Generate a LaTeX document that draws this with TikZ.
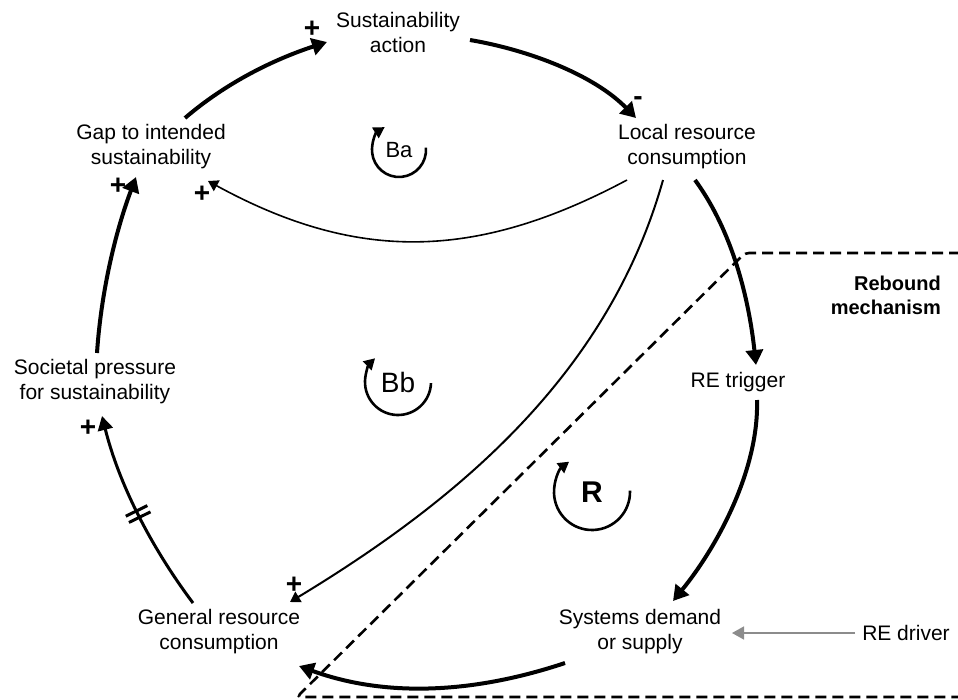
\documentclass[tikz,border=0pt]{standalone}
\usepackage{fontspec}
\setmainfont{Liberation Sans}
\usetikzlibrary{arrows.meta,calc,decorations.markings}
\begin{document}
\begin{tikzpicture}[x=1pt,y=-1pt,
  lbl/.style={font=\fontsize{21}{25}\selectfont, align=center, inner sep=0pt},
  sgn/.style={font=\bfseries\fontsize{28}{28}\selectfont, inner sep=0pt},
  thicklink/.style={line width=4pt, -{Triangle[length=15pt,width=17pt]}},
  midlink/.style={line width=3pt, -{Triangle[length=14pt,width=15pt]}},
  thinlink/.style={line width=1.6pt, -{Triangle[length=10pt,width=12pt]}},
  driverlink/.style={line width=1.5pt, draw=black!45, -{Triangle[length=12pt,width=13pt]}},
  loopicon/.style={line width=2.6pt, -{Triangle[length=11pt,width=12pt]}},
  boundary/.style={line width=2.6pt, dash pattern=on 11pt off 6pt},
  delay/.style={postaction={decorate}, decoration={markings,
    mark=at position 0.5 with {\draw[line width=3pt,-] (-3.5,-12) -- (-3.5,12) (3.5,-12) -- (3.5,12);}}}
]
\useasboundingbox (0,0) rectangle (958,699);

% variables
\node[lbl] (sa)    at (398,32)  {Sustainability\\action};
\node[lbl] (gap)   at (151,147) {Gap to intended\\sustainability};
\node[lbl] (local) at (687,147) {Local resource\\consumption};
\node[lbl] (soc)   at (95,382)  {Societal pressure\\for sustainability};
\node[lbl] (ret)   at (738,382) {RE trigger};
\node[lbl] (gen)   at (219,632) {General resource\\consumption};
\node[lbl] (sys)   at (640,632) {Systems demand\\or supply};
\node[lbl] (drv)   at (906,633) {RE driver};
\node[lbl, anchor=east, align=right, font=\bfseries\fontsize{20}{24}\selectfont] (reb) at (941,295) {Rebound\\mechanism};

% loop markers
\node[lbl, font=\fontsize{22}{22}\selectfont] (ba) at (399,150) {Ba};
\node[lbl, font=\fontsize{28}{28}\selectfont] (bb) at (398,382) {Bb};
\node[lbl, font=\bfseries\fontsize{30}{30}\selectfont] (rl) at (592,492) {R};
\draw[loopicon] ($(ba)+(5:27pt)$) arc[start angle=5, end angle=-238, radius=27pt];
\draw[loopicon] ($(bb)+(-2:33pt)$) arc[start angle=-2, end angle=-226, radius=33pt];
\draw[loopicon] ($(rl)+(2:38pt)$) arc[start angle=2, end angle=-233, radius=38pt];

% rebound boundary
\draw[boundary, rounded corners=4pt] (960,253) -- (745,253) -- (297,697) -- (960,697);

% causal links
\draw[thicklink] ($(gap)+(34,-29)$) .. controls +(42,-36) and +(-52,17) .. ($(sa)+(-71,10)$);
\draw[thicklink] ($(sa)+(72,8)$) .. controls +(59,10) and +(-42,-43) .. ($(local)+(-51,-29)$);
\draw[thicklink] ($(local)+(8,33)$) .. controls +(38,52) and +(-7,-65) .. ($(ret)+(18,-17)$);
\draw[thicklink] ($(ret)+(19,18)$) .. controls +(2,70) and +(44,-54) .. ($(sys)+(33,-31)$);
\draw[thicklink] ($(sys)+(-75,31)$) .. controls +(-90,30) and +(88,32) .. ($(gen)+(80,34)$);
\draw[midlink, delay] ($(gen)+(-26,-29)$) .. controls +(-42,-56) and +(17,68) .. ($(soc)+(7,34)$);
\draw[thicklink] ($(soc)+(2,-29)$) .. controls +(4,-60) and +(-21,56) .. ($(gap)+(-15,30)$);
\draw[thinlink] ($(local)+(-60,33)$) .. controls +(-150,80) and +(150,82) .. ($(gap)+(57,34)$);
\draw[thinlink, line width=2pt] ($(local)+(-24,33)$) .. controls +(-54,192) and +(172,-104) .. ($(gen)+(71,-30)$);
\draw[driverlink] ($(drv)+(-51,0)$) -- ($(sys)+(92,1)$);

% polarities
\node[sgn] (p1) at (312,29)  {+};
\node[sgn] (m1) at (638,101) {-};
\node[sgn] (p2) at (118,186) {+};
\node[sgn] (p3) at (202,194) {+};
\node[sgn] (p4) at (88,428)  {+};
\node[sgn] (p5) at (294,585) {+};
\end{tikzpicture}
\end{document}
